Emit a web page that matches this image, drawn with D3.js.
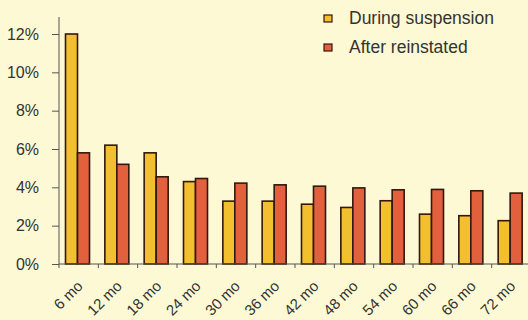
<!DOCTYPE html>
<html><head><meta charset="utf-8">
<script src="https://cdn.jsdelivr.net/npm/d3@7"></script>
<style>
html,body{margin:0;padding:0;background:#fcf9d4;}
svg{display:block;font-family:"Liberation Sans",Arial,Helvetica,sans-serif;}
</style></head><body>
<svg id="c" width="528" height="320"></svg>
<script>
const categories = ["6 mo","12 mo","18 mo","24 mo","30 mo","36 mo","42 mo","48 mo","54 mo","60 mo","66 mo","72 mo"];
const seriesNames = ["During suspension","After reinstated"];
const during = [12.0, 6.2, 5.8, 4.3, 3.28, 3.28, 3.12, 2.95, 3.3, 2.6, 2.52, 2.26];
const after = [5.8, 5.2, 4.55, 4.46, 4.22, 4.13, 4.06, 3.97, 3.87, 3.89, 3.82, 3.7];
const yTicks = [0, 2, 4, 6, 8, 10, 12];
const colors = ["#f2c02e", "#e2613c"];

const svg = d3.select("#c");
const x0 = 59, x1 = 531, yBase = 264;
const x = d3.scaleBand().domain(categories).range([x0, x1]).paddingInner(0).paddingOuter(0);
const y = d3.scaleLinear().domain([0, 12]).range([yBase, 34]);
const inner = d3.scaleBand().domain(seriesNames).range([6.5, 30.5]);

// bars
const g = svg.append("g");
categories.forEach((c, i) => {
  [during[i], after[i]].forEach((v, j) => {
    g.append("rect")
      .attr("x", x(c) + inner(seriesNames[j]))
      .attr("y", y(v))
      .attr("width", inner.bandwidth())
      .attr("height", yBase - y(v))
      .attr("fill", colors[j])
      .attr("stroke", "#35170f")
      .attr("stroke-width", 1.6);
  });
});

// y axis
const ya = svg.append("g").attr("transform", `translate(${x0},0)`)
  .call(d3.axisLeft(y).tickValues(yTicks).tickFormat(d => d + "%").tickSize(7).tickPadding(13));
ya.select(".domain").attr("d", `M-0,${yBase}V17`).attr("stroke", "#555");
ya.selectAll(".tick line").attr("stroke", "#555");
ya.selectAll(".tick text").attr("font-size", 16).attr("fill", "#333");

// x axis
const xa = svg.append("g").attr("transform", `translate(0,${yBase})`);
xa.append("line").attr("x1", x0).attr("x2", 528).attr("y1", 0).attr("y2", 0).attr("stroke", "#555");
xa.selectAll("line.t").data(categories).enter().append("line").attr("class","t")
  .attr("x1", d => x(d)).attr("x2", d => x(d)).attr("y1", 0).attr("y2", 4).attr("stroke", "#555");
xa.selectAll("text").data(categories).enter().append("text")
  .attr("transform", d => `translate(${x(d) + x.bandwidth()/2 + 5},${23}) rotate(-45)`)
  .attr("text-anchor", "end")
  .attr("font-size", 15)
  .attr("fill", "#333")
  .text(d => d);

// legend
const lg = svg.append("g");
seriesNames.forEach((n, j) => {
  lg.append("rect").attr("x", 324).attr("y", 15 + j * 29).attr("width", 8).attr("height", 7)
    .attr("fill", colors[j]).attr("stroke", "#35170f").attr("stroke-width", 1.2);
  lg.append("text").attr("x", 349).attr("y", 24 + j * 28.5).attr("font-size", 17.5).attr("fill", "#333").text(n);
});
</script></body></html>
